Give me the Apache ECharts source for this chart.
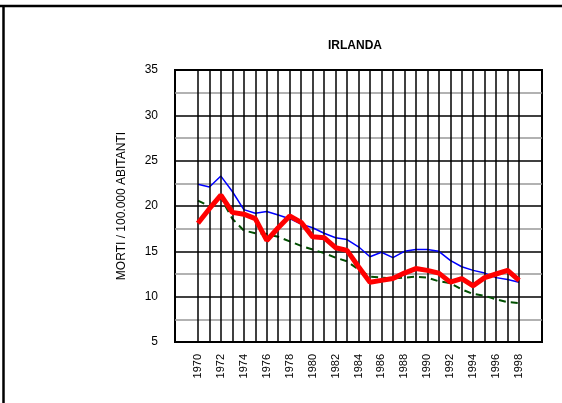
<!DOCTYPE html>
<html>
<head>
<meta charset="utf-8">
<script src="https://cdn.jsdelivr.net/npm/echarts@6/dist/echarts.min.js"></script>
<style>
  html, body { margin: 0; padding: 0; background: #fff; }
  #chart { width: 562px; height: 403px; }
</style>
</head>
<body>
<div id="chart"></div>
<script>
// anni osservati
const years = [1970, 1971, 1972, 1973, 1974, 1975, 1976, 1977, 1978, 1979,
  1980, 1981, 1982, 1983, 1984, 1985, 1986, 1987, 1988, 1989,
  1990, 1991, 1992, 1993, 1994, 1995, 1996, 1997, 1998]

// linea blu sottile
const serieBlu = [22.4, 22.1, 23.3, 21.6, 19.6, 19.2, 19.4, 19.0, 18.6, 18.0,
  17.6, 17.0, 16.5, 16.3, 15.5, 14.4, 14.9, 14.3, 15.0, 15.2,
  15.2, 15.0, 14.0, 13.3, 12.9, 12.6, 12.1, 11.9, 11.6]

// linea rossa spessa
const serieRossa = [18.1, 19.7, 21.2, 19.3, 19.1, 18.6, 16.2, 17.6, 18.9, 18.2,
  16.6, 16.5, 15.4, 15.1, 13.3, 11.6, 11.8, 12.0, 12.6, 13.1,
  12.9, 12.6, 11.6, 12.0, 11.2, 12.1, 12.5, 12.9, 11.8]

// linea verde tratteggiata
const serieVerde = [20.6, 20.0, 20.9, 18.6, 17.3, 17.0, 16.9, 16.6, 16.1, 15.6,
  15.2, 14.8, 14.3, 13.9, 13.0, 12.2, 12.1, 12.0, 12.1, 12.2,
  12.1, 11.7, 11.5, 10.8, 10.3, 10.1, 9.7, 9.4, 9.3]

const pair = (arr) => years.map((y, i) => [y, arr[i]])

const chart = echarts.init(document.getElementById('chart'))
const font = 'Liberation Sans, Arial, sans-serif'

const option = {
  animation: false,
  backgroundColor: '#fff',
  title: {
    text: 'IRLANDA',
    left: 350,
    top: 35,
    textAlign: 'center',
    textStyle: { fontFamily: font, fontSize: 12, fontWeight: 'bold', color: '#000' }
  },
  graphic: [
    { type: 'line', shape: { x1: 0, y1: 6, x2: 562, y2: 6 }, style: { stroke: '#000', lineWidth: 2.5 } },
    { type: 'line', shape: { x1: 3.5, y1: 6, x2: 3.5, y2: 403 }, style: { stroke: '#000', lineWidth: 2.5 } }
  ],
  grid: {
    left: 175,
    right: 20,
    top: 70,
    bottom: 61,
    show: true,
    borderColor: '#000',
    borderWidth: 2,
    backgroundColor: '#fff'
  },
  xAxis: {
    type: 'value',
    min: 1968,
    max: 2000,
    interval: 1,
    axisLine: { show: false },
    axisTick: { show: false },
    splitLine: { show: false },
    axisLabel: {
      rotate: 90,
      margin: 12,
      fontFamily: font,
      fontSize: 11,
      color: '#000',
      formatter: (v) => (v >= years[0] && v <= years[years.length - 1] && v % 2 === 0) ? String(v) : ''
    }
  },
  yAxis: {
    type: 'value',
    min: 5,
    max: 35,
    interval: 5,
    name: 'MORTI / 100.000 ABITANTI',
    nameLocation: 'middle',
    nameGap: 47,
    nameTextStyle: { fontFamily: font, fontSize: 12, color: '#000' },
    axisLine: { show: false },
    axisTick: { show: false },
    axisLabel: { margin: 17, fontFamily: font, fontSize: 12, color: '#000' },
    splitLine: { show: true, lineStyle: { color: '#000', width: 1.5 } },
    minorTick: { show: false, splitNumber: 2 },
    minorSplitLine: { show: true, lineStyle: { color: '#999', width: 1.5 } }
  },
  series: [
    {
      // linee verticali, una per anno
      name: 'griglia',
      type: 'line',
      data: [],
      z: 1,
      silent: true,
      markLine: {
        silent: true,
        symbol: ['none', 'none'],
        label: { show: false },
        lineStyle: { color: '#000', width: 1.5, type: 'solid' },
        data: years.map((y) => ({ xAxis: y }))
      }
    },
    {
      name: 'verde',
      type: 'line',
      z: 3,
      data: pair(serieVerde),
      showSymbol: false,
      lineStyle: { color: '#004f00', width: 2, type: [7, 5] }
    },
    {
      name: 'blu',
      type: 'line',
      z: 4,
      data: pair(serieBlu),
      showSymbol: false,
      lineStyle: { color: '#0000ff', width: 1.5 }
    },
    {
      name: 'rossa',
      type: 'line',
      z: 5,
      data: pair(serieRossa),
      showSymbol: false,
      lineStyle: { color: '#ff0000', width: 5 }
    }
  ]
}

chart.setOption(option)
</script>
</body>
</html>
